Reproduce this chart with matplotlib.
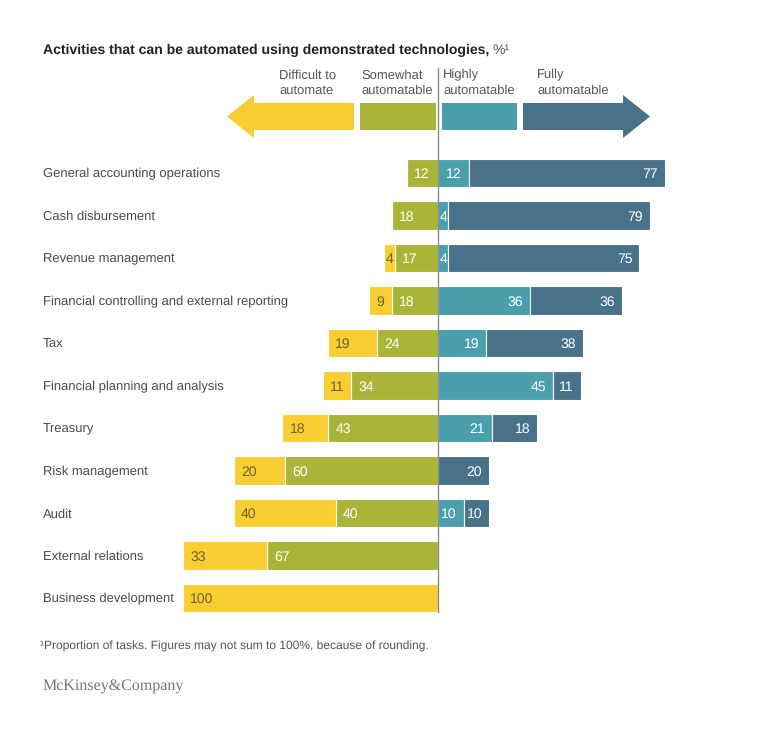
import matplotlib
matplotlib.use("Agg")
import matplotlib.pyplot as plt
from matplotlib.patches import Polygon, Rectangle
import numpy as np

# les données
categories = ["General accounting operations", "Cash disbursement", "Revenue management",
              "Financial controlling and external reporting", "Tax",
              "Financial planning and analysis", "Treasury", "Risk management", "Audit",
              "External relations", "Business development"]
difficult = [0, 0, 4, 9, 19, 11, 18, 20, 40, 33, 100]
somewhat = [12, 18, 17, 18, 24, 34, 43, 60, 40, 67, 0]
highly = [12, 4, 4, 36, 19, 45, 21, 0, 10, 0, 0]
fully = [77, 79, 75, 36, 38, 11, 18, 20, 10, 0, 0]

legend_labels = ["Difficult to\nautomate", "Somewhat\nautomatable", "Highly\nautomatable", "Fully\nautomatable"]
title = "Activities that can be automated using demonstrated technologies,"
footnote = "\u00b9Proportion of tasks. Figures may not sum to 100%, because of rounding."

c_yel, c_grn, c_teal, c_blue = "#F9CE33", "#A9B538", "#4B9EAB", "#48728A"
c_text = "#4a4a4a"

plt.rcParams["font.family"] = ["Liberation Sans", "DejaVu Sans"]
plt.rcParams["text.hinting"] = "no_hinting"
plt.rcParams["text.hinting_factor"] = 1

W, H = 770, 730
fig = plt.figure(figsize=(W / 100, H / 100), dpi=100)

# axes placé pour que x=0 tombe sur le trait central (pixel 438), 2.55 px par unité
x0_px, px_per = 438, 2.55
left_px, right_px = 183, 700
row0, step = 173, 42.5
top_px = row0 - step / 2
bot_px = row0 + step * (len(categories) - 0.5)
ax = fig.add_axes([left_px / W, 1 - bot_px / H, (right_px - left_px) / W, (bot_px - top_px) / H])
ax.set_xlim((left_px - x0_px) / px_per, (right_px - x0_px) / px_per)
ax.set_ylim(len(categories) - 0.5, -0.5)
ax.axis("off")

y = np.arange(len(categories))
d = np.array(difficult); s = np.array(somewhat); h = np.array(highly); f = np.array(fully)
bh = 0.66
kw = dict(height=bh, edgecolor="white", linewidth=0.8)
ax.barh(y, -s, left=0, color=c_grn, **kw)
ax.barh(y, -d, left=-s, color=c_yel, **kw)
ax.barh(y, h, left=0, color=c_teal, **kw)
ax.barh(y, f, left=h, color=c_blue, **kw)

pad = 7 / px_per
fs = 10
for i in range(len(categories)):
    # côté gauche : étiquettes alignées à gauche
    for val, start, col in [(d[i], -s[i] - d[i], "#6e6136"), (s[i], -s[i], "white")]:
        if val == 0:
            continue
        if val < 6:
            ax.text(start + val / 2, i, str(val), ha="center", va="center_baseline", color=col, fontsize=fs)
        else:
            ax.text(start + pad, i, str(val), ha="left", va="center_baseline", color=col, fontsize=fs)
    # côté droit : étiquettes alignées à droite
    for val, end in [(h[i], h[i]), (f[i], h[i] + f[i])]:
        if val == 0:
            continue
        if val < 6:
            ax.text(end - val / 2, i, str(val), ha="center", va="center_baseline", color="white", fontsize=fs)
        else:
            ax.text(end - pad, i, str(val), ha="right", va="center_baseline", color="white", fontsize=fs)
    ax.text(43 / W, 1 - (row0 + step * i) / H, categories[i], transform=fig.transFigure,
            ha="left", va="center_baseline", color=c_text, fontsize=9.7)

# trait central
ax.plot([0, 0], [-0.5 - (top_px - 68) / step, len(categories) - 0.5 - (bot_px - 612) / step],
        color="#8a8a8a", lw=1, clip_on=False)

# légende en flèches, en pixels
lax = fig.add_axes([0, 0, 1, 1], facecolor="none")
lax.set_xlim(0, W); lax.set_ylim(H, 0); lax.axis("off")
yt, yb, ht, hb = 103, 130, 95, 138
lax.add_patch(Polygon([(227, 116.5), (254, ht), (254, yt), (354, yt), (354, yb), (254, yb), (254, hb)],
                      closed=True, color=c_yel, lw=0))
lax.add_patch(Rectangle((360, yt), 76, yb - yt, color=c_grn, lw=0))
lax.add_patch(Rectangle((442, yt), 75, yb - yt, color=c_teal, lw=0))
lax.add_patch(Polygon([(523, yt), (623, yt), (623, ht), (650, 116.5), (623, hb), (623, yb), (523, yb)],
                      closed=True, color=c_blue, lw=0))
for xl, lab in zip([279, 361, 443, 537], legend_labels):
    lax.text(xl, 69, lab, ha="left", va="top", color="#555555", fontsize=9.5, linespacing=1.4)

# titre
t = fig.text(43 / W, 1 - 49 / H, title, ha="left", va="center_baseline", fontsize=9.8,
             fontweight="bold", color="#222222")
fig.canvas.draw()
bb = t.get_window_extent(renderer=fig.canvas.get_renderer())
fig.text(bb.x1 / W + 3 / W, 1 - 49 / H, "%\u00b9", ha="left", va="center_baseline", fontsize=9.8,
         color="#555555")

fig.text(40 / W, 1 - 645 / H, footnote, ha="left", va="center_baseline", fontsize=8.7, color="#555555")
fig.text(43 / W, 1 - 685 / H, "McKinsey&Company", ha="left", va="center_baseline", fontsize=11.2,
         color="#777777", family=["Liberation Serif", "DejaVu Serif"])

fig.savefig("out.png", dpi=100, facecolor="white")
